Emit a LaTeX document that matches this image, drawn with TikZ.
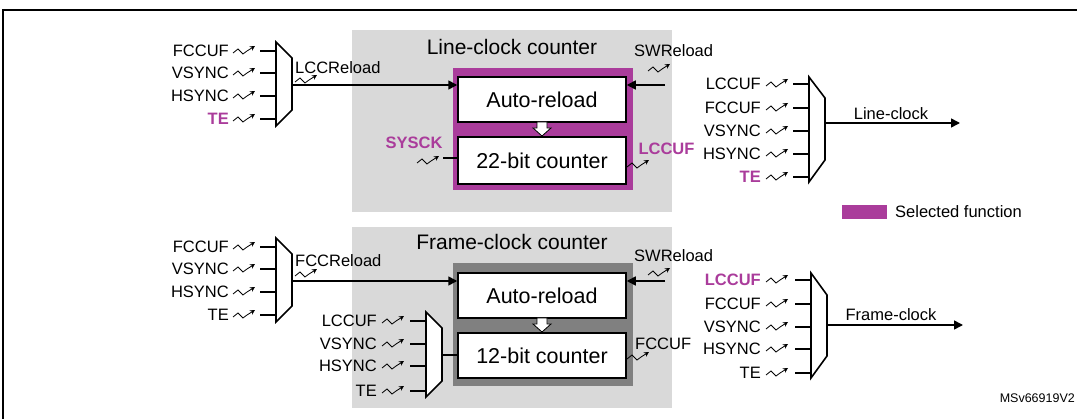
\documentclass[tikz,border=0pt]{standalone}
\usepackage{fontspec}
\setmainfont{Liberation Sans}
\usetikzlibrary{arrows.meta}
\definecolor{selpurple}{RGB}{170,60,155}
\definecolor{bggray}{RGB}{217,217,217}
\definecolor{dkgray}{RGB}{128,128,128}
\tikzset{
  small/.style={font=\fontsize{16.5}{18}\selectfont, inner sep=0pt},
  title/.style={font=\fontsize{21}{23}\selectfont, inner sep=0pt},
  block/.style={draw, line width=1.5pt, fill=white, font=\fontsize{21.5}{23}\selectfont},
  wire/.style={line width=1.6pt},
  line/.style={wire, -{Triangle[length=9pt,width=9pt]}},
  mux/.style={draw, line width=1.6pt, fill=white},
  sel/.style={text=selpurple, font=\bfseries\fontsize{16.5}{18}\selectfont},
  pics/clk/.style={code={
    \draw[line width=0.8pt, -{Stealth[length=5pt,width=5pt]}]
      (0,0) -- (5,-4) -- (10,1) -- (14,-2) -- (22,-7);}}
}
\begin{document}
\begin{tikzpicture}[x=1pt,y=-1pt]
  \useasboundingbox (0,0) rectangle (1077,419);
  % frame
  \draw[line width=2pt] (1090,10) -- (3,10) -- (3,430);

  % ---------- line-clock counter ----------
  \fill[bggray] (352,30) rectangle (672,212);
  \node[title] (lcctitle) at (512,47) {Line-clock counter};
  \fill[selpurple] (453,68) rectangle (633,190);
  \node[block, minimum width=168pt, minimum height=45pt] (lccreg) at (542,99.5) {Auto-reload};
  \node[block, minimum width=168pt, minimum height=47pt] (lcccnt) at (542,160.5) {22-bit counter};
  \draw[line width=0.8pt, fill=white] (537,122)--(547,122)--(547,128)--(551,128)--(542,136)--(533,128)--(537,128)--cycle;

  % input mux of the line-clock counter
  \draw[mux] (276,42) -- (292,58) -- (292,110) -- (276,126) -- cycle;
  \coordinate (lmuxout) at (292,85);
  \foreach \name/\y/\sty in {FCCUF/51/small, VSYNC/73/small, HSYNC/96/small, TE/119/sel} {
    \draw[wire] (260,\y) -- (276,\y);
    \pic at (233,\y+2) {clk};
    \node[small, \sty, anchor=east] at (229,\y) {\name};
  }
  \draw[line] (lmuxout) -- (lccreg.west |- lmuxout);
  \node[small, anchor=west] (lccrl) at (295,68) {LCCReload};
  \pic at (295,82) {clk};
  \node[small, anchor=west] (lsw) at (634,51) {SWReload};
  \pic at (648,71) {clk};
  \coordinate (lswin) at (665,85);
  \draw[line] (lswin) -- (lswin -| lccreg.east);
  \node[sel, anchor=south] (sysck) at (414,152) {SYSCK};
  \pic at (417,163) {clk};
  \coordinate (sysin) at (443,158);
  \draw[wire] (sysin) -- (sysin -| lcccnt.west);
  \node[sel, anchor=west] (lccuf) at (635,149) {LCCUF};
  \pic at (627,167) {clk};

  % line-clock output mux
  \draw[mux] (809,77) -- (825,98) -- (825,160) -- (809,182) -- cycle;
  \coordinate (rmuxout) at (825,123);
  \foreach \name/\y/\sty in {LCCUF/84/small, FCCUF/108/small, VSYNC/131/small, HSYNC/154/small, TE/177/sel} {
    \draw[wire] (793,\y) -- (809,\y);
    \pic at (766,\y+2) {clk};
    \node[small, \sty, anchor=east] at (761,\y) {\name};
  }
  \coordinate (lcout) at (960,123);
  \draw[line] (rmuxout) -- (lcout);
  \node[small, anchor=south] (lclabel) at (891,120) {Line-clock};

  % legend
  \fill[selpurple] (842,205) rectangle (887,219);
  \node[small, anchor=west] (legend) at (895,212) {Selected function};

  % ---------- frame-clock counter ----------
  \fill[bggray] (352,227) rectangle (672,408);
  \node[title] (fcctitle) at (512,242) {Frame-clock counter};
  \fill[dkgray] (453,263) rectangle (633,386);
  \node[block, minimum width=168pt, minimum height=45pt] (fccreg) at (542,295.5) {Auto-reload};
  \node[block, minimum width=168pt, minimum height=45pt] (fcccnt) at (542,355.5) {12-bit counter};
  \draw[line width=0.8pt, fill=white] (537,318)--(547,318)--(547,324)--(551,324)--(542,332)--(533,324)--(537,324)--cycle;

  % reload mux of the frame-clock counter
  \draw[mux] (276,238) -- (292,254) -- (292,306) -- (276,322) -- cycle;
  \coordinate (fmuxout) at (292,281);
  \foreach \name/\y in {FCCUF/247, VSYNC/269, HSYNC/292, TE/315} {
    \draw[wire] (260,\y) -- (276,\y);
    \pic at (233,\y+2) {clk};
    \node[small, anchor=east] at (229,\y) {\name};
  }
  \draw[line] (fmuxout) -- (fccreg.west |- fmuxout);
  \node[small, anchor=west] (fccrl) at (295,261) {FCCReload};
  \pic at (295,276) {clk};
  \node[small, anchor=west] (fsw) at (634,256) {SWReload};
  \pic at (648,275) {clk};
  \coordinate (fswin) at (665,281);
  \draw[line] (fswin) -- (fswin -| fccreg.east);

  % clock mux of the frame-clock counter
  \draw[mux] (426,312) -- (442,328) -- (442,381) -- (426,397) -- cycle;
  \coordinate (cmuxout) at (442,355);
  \foreach \name/\y in {LCCUF/321, VSYNC/344, HSYNC/366, TE/391} {
    \draw[wire] (410,\y) -- (426,\y);
    \pic at (382,\y+2) {clk};
    \node[small, anchor=east] at (377,\y) {\name};
  }
  \draw[wire] (cmuxout) -- (fcccnt.west |- cmuxout);
  \node[small, anchor=west] (fccuf) at (635,344) {FCCUF};
  \pic at (627,359) {clk};

  % frame-clock output mux
  \draw[mux] (811,273) -- (827,295) -- (827,356) -- (811,378) -- cycle;
  \coordinate (fmuxout2) at (827,325);
  \foreach \name/\y/\sty in {LCCUF/280/sel, FCCUF/304/small, VSYNC/327/small, HSYNC/349/small, TE/373/small} {
    \draw[wire] (795,\y) -- (811,\y);
    \pic at (766,\y+2) {clk};
    \node[small, \sty, anchor=east] at (761,\y) {\name};
  }
  \coordinate (fcout) at (963,325);
  \draw[line] (fmuxout2) -- (fcout);
  \node[small, anchor=south] (fclabel) at (891,321) {Frame-clock};

  \node[font=\fontsize{12.5}{14}\selectfont, inner sep=0pt, anchor=east] (docid) at (1075,398) {MSv66919V2};
\end{tikzpicture}
\end{document}
